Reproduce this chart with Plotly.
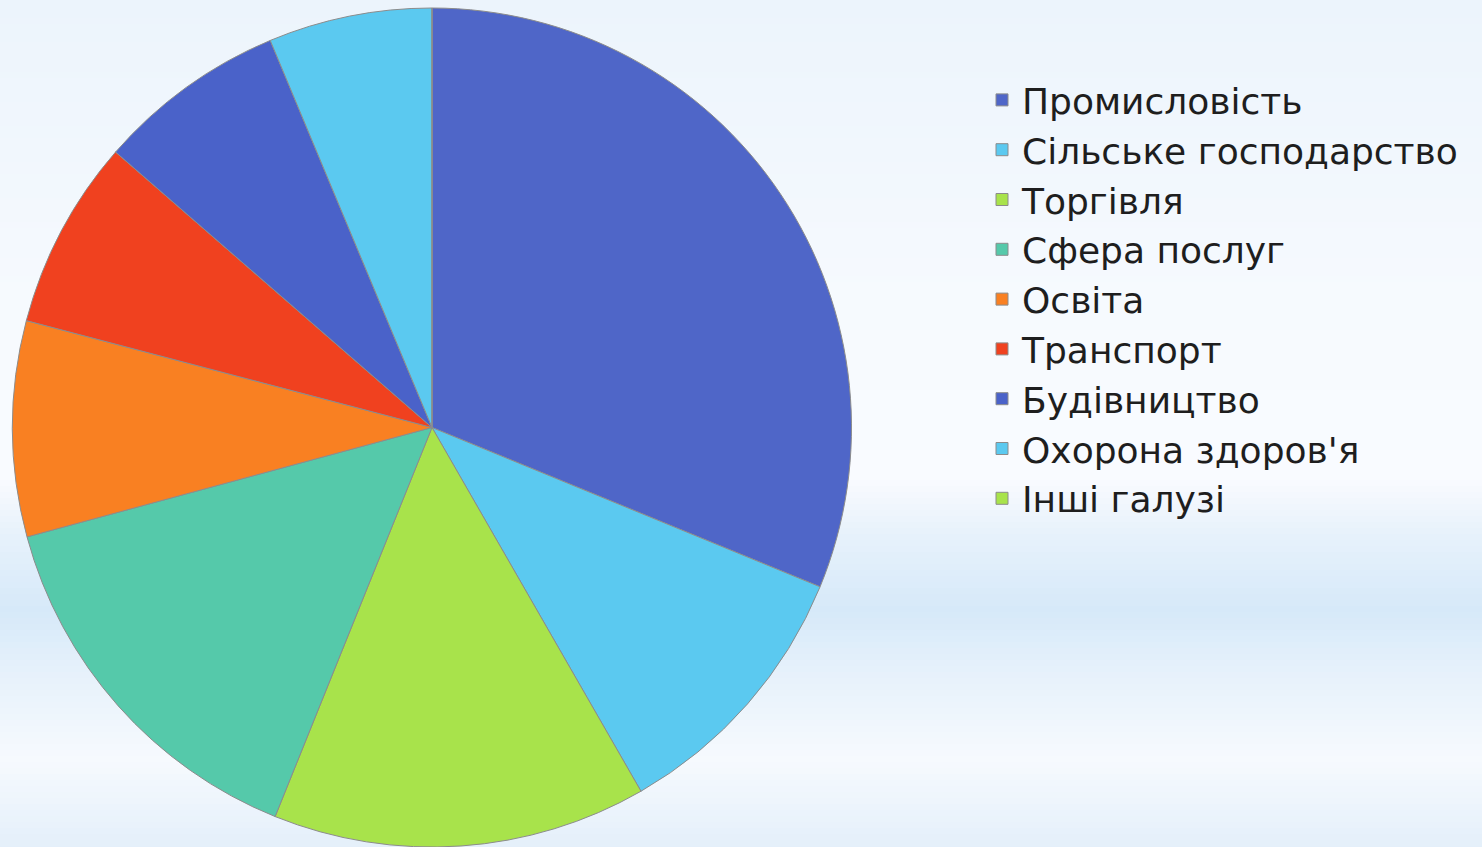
import plotly.graph_objects as go

labels = ["Промисловість", "Сільське господарство", "Торгівля", "Сфера послуг",
          "Освіта", "Транспорт", "Будівництво", "Охорона здоров'я", "Інші галузі"]
values = [31.2, 10.5, 14.4, 14.7, 8.3, 7.3, 7.3, 6.3, 0]
colors = ["#4F66C8", "#5BC9F0", "#A8E34B", "#55C9AA", "#F98022", "#F0411F",
          "#4A62C9", "#5BC9F0", "#A8E34B"]

W, H = 1482, 847

# background gradient stops (pixel y from top, colour)
bg_stops = [(0, (236, 244, 252)), (300, (246, 250, 254)), (480, (249, 251, 255)),
            (530, (232, 242, 251)), (610, (214, 233, 249)), (680, (232, 242, 251)),
            (760, (246, 250, 254)), (847, (228, 239, 250))]

def bg_color(y):
    for (y0, c0), (y1, c1) in zip(bg_stops[:-1], bg_stops[1:]):
        if y0 <= y <= y1:
            t = (y - y0) / (y1 - y0)
            return "rgb(%d,%d,%d)" % tuple(round(a + (b - a) * t) for a, b in zip(c0, c1))
    return "rgb(%d,%d,%d)" % bg_stops[-1][1]

shapes = []
step = 6
for y in range(0, H, step):
    shapes.append(dict(type="rect", xref="paper", yref="paper", layer="below",
                       x0=0, x1=1, y0=1 - (y + step) / H, y1=1 - y / H,
                       fillcolor=bg_color(y + step / 2), line=dict(width=0)))

cx, cy, r = 432, 428, 420
fig = go.Figure(go.Pie(
    labels=labels, values=values, sort=False, direction="clockwise", rotation=0,
    marker=dict(colors=colors, line=dict(color="#8C8C8C", width=1)),
    textinfo="none", hoverinfo="label+percent",
    domain=dict(x=[(cx - r) / W, (cx + r) / W], y=[max(0, 1 - (cy + r) / H), 1 - (cy - r) / H]),
))

fig.update_layout(
    width=W, height=H, margin=dict(l=0, r=0, t=0, b=0),
    paper_bgcolor="#F4F8FD", plot_bgcolor="rgba(0,0,0,0)",
    shapes=shapes,
    showlegend=True,
    legend=dict(x=982 / W, y=1 - 70 / H, xanchor="left", yanchor="top",
                font=dict(family="DejaVu Sans", size=36, color="#1E1E1E"),
                bgcolor="rgba(0,0,0,0)", itemwidth=30, tracegroupgap=0),
)

fig.write_html("out.html", config={"displayModeBar": False},
               post_script="document.body.style.margin='0';document.body.style.overflow='hidden';")
